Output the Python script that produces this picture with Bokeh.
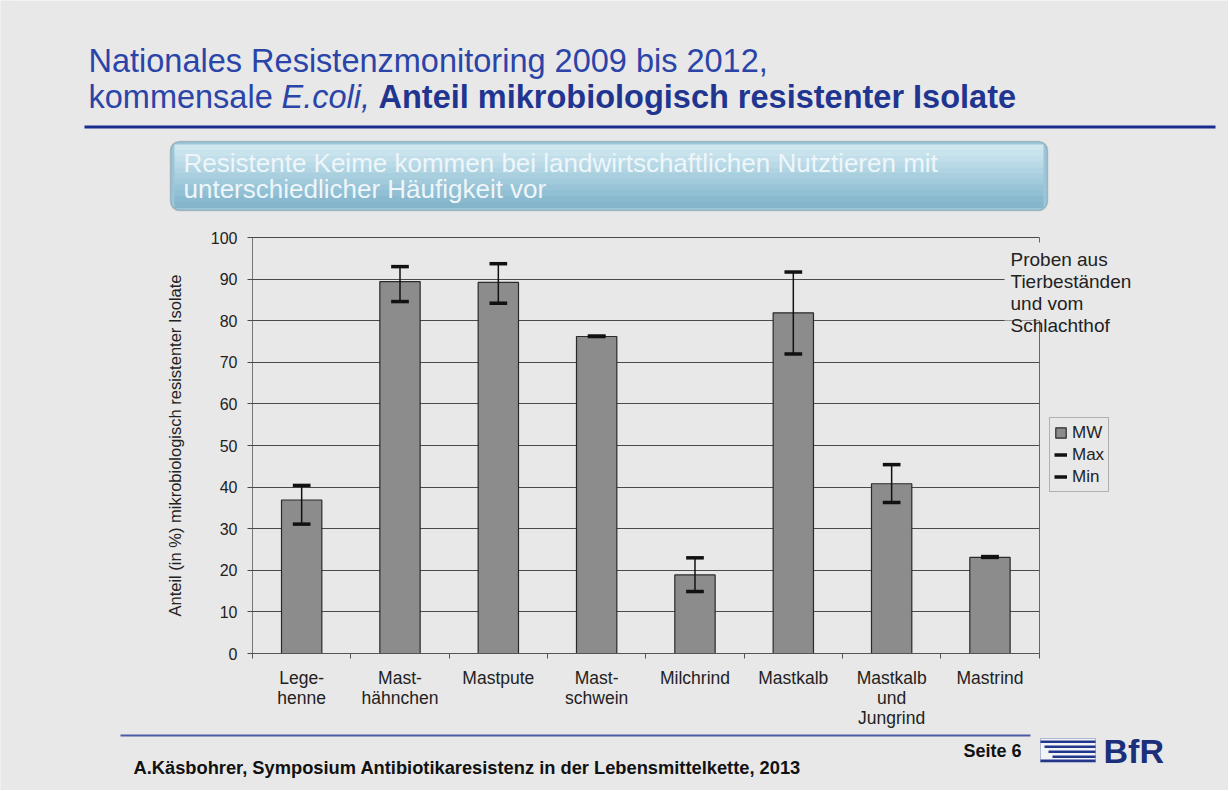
from bokeh.plotting import figure
from bokeh.models import (Range1d, FixedTicker, Label, BoxAnnotation, Legend, LegendItem, LinearAxis)
from bokeh.embed import file_html
from bokeh.resources import INLINE

# ---------------- data ----------------
categories = ["Lege-\nhenne", "Mast-\nhähnchen", "Mastpute", "Mast-\nschwein",
              "Milchrind", "Mastkalb", "Mastkalb\nund\nJungrind", "Mastrind"]
mw_values = [36.9, 89.4, 89.2, 76.2, 18.9, 81.9, 40.8, 23.1]
max_values = [40.4, 93.0, 93.7, 76.3, 23.0, 91.7, 45.4, 23.3]
min_values = [31.1, 84.6, 84.2, 76.2, 14.9, 72.0, 36.3, 23.1]
y_ticks = [0, 10, 20, 30, 40, 50, 60, 70, 80, 90, 100]

FONT = "Liberation Sans"
BG = "#e8e8e8"
W, H = 1228, 790

# plot-area geometry on the slide (pixels)
PA_LEFT, PA_TOP, PA_BOTTOM = 252, 237, 653
PX_PER_CAT = 98.33
PX_PER_UNIT = (PA_BOTTOM - PA_TOP) / 100.0

n = len(categories)
centers = [i + 0.5 for i in range(n)]
bounds = [float(i) for i in range(n + 1)]

x_range = Range1d(-PA_LEFT / PX_PER_CAT, (W - PA_LEFT) / PX_PER_CAT)
y_range = Range1d(-(H - PA_BOTTOM) / PX_PER_UNIT, 100 + PA_TOP / PX_PER_UNIT)

p = figure(width=W, height=H, x_range=x_range, y_range=y_range,
           output_backend="svg", toolbar_location=None,
           x_axis_location=None, y_axis_location=None, min_border=0)
p.min_border_left = p.min_border_right = p.min_border_top = p.min_border_bottom = 0
for g in p.grid:
    g.visible = False
p.background_fill_color = BG
p.border_fill_color = BG
p.outline_line_color = None

# y axis; its inward ticks span the plot area and serve as the horizontal grid lines
yaxis = LinearAxis(fixed_location=0, bounds=(0, 100), ticker=FixedTicker(ticks=y_ticks), level="underlay")
yaxis.axis_line_color = "#777777"
yaxis.major_tick_line_color = "#4a4a4a"
yaxis.major_tick_out = 5
yaxis.major_tick_in = int(round(n * PX_PER_CAT))
yaxis.minor_tick_line_color = None
yaxis.major_label_standoff = 10
yaxis.major_label_text_font = FONT
yaxis.major_label_text_font_size = "16px"
yaxis.major_label_text_color = "#222222"
yaxis.axis_label = "Anteil (in %) mikrobiologisch resistenter Isolate"
yaxis.axis_label_text_font = FONT
yaxis.axis_label_text_font_size = "16.5px"
yaxis.axis_label_text_font_style = "normal"
yaxis.axis_label_text_color = "#222222"
yaxis.axis_label_standoff = 24
p.add_layout(yaxis, "left")

# right border of the plot area
raxis = LinearAxis(fixed_location=n, bounds=(0, 100), ticker=FixedTicker(ticks=[]), level="underlay")
raxis.axis_line_color = "#666666"
raxis.major_tick_line_color = None
raxis.minor_tick_line_color = None
raxis.major_label_text_color = None
p.add_layout(raxis, "right")

# bars and min/max markers
bars = p.vbar(x=centers, top=mw_values, width=0.41, bottom=0,
              fill_color="#8c8c8c", line_color="#2a2a2a", line_width=1.2)
p.segment(x0=centers, x1=centers, y0=min_values, y1=max_values, line_color="#111111", line_width=1.5)
cap = 0.09
cmax = p.segment(x0=[c - cap for c in centers], x1=[c + cap for c in centers], y0=max_values, y1=max_values,
                 line_color="#111111", line_width=3.5)
cmin = p.segment(x0=[c - cap for c in centers], x1=[c + cap for c in centers], y0=min_values, y1=min_values,
                 line_color="#111111", line_width=3.5)

# x axis (labels at category centres, ticks at category boundaries)
xaxis = LinearAxis(fixed_location=0, bounds=(0, n), ticker=FixedTicker(ticks=centers, minor_ticks=bounds))
xaxis.major_label_overrides = {c: t for c, t in zip(centers, categories)}
xaxis.major_tick_line_color = None
xaxis.major_tick_out = 0
xaxis.major_tick_in = 0
xaxis.minor_tick_line_color = "#555555"
xaxis.minor_tick_out = 5
xaxis.minor_tick_in = 0
xaxis.axis_line_color = "#555555"
xaxis.major_label_standoff = 9
xaxis.major_label_text_font = FONT
xaxis.major_label_text_font_size = "17.5px"
xaxis.major_label_text_line_height = 1.0
xaxis.major_label_text_color = "#222222"
p.add_layout(xaxis, "below")


def lab(x, y, text, size, color, style="normal", baseline="middle", **kw):
    p.add_layout(Label(x=x, y=y, x_units="canvas", y_units="canvas", text=text,
                       text_baseline=baseline, text_font=FONT, text_font_size=size,
                       text_font_style=style, text_color=color, **kw))


def box(l, r, t, b, **kw):
    p.add_layout(BoxAnnotation(left=l, right=r, top=t, bottom=b, left_units="canvas", right_units="canvas",
                               top_units="canvas", bottom_units="canvas", fill_alpha=1, **kw))


# clean strip at the far left edge of the slide
box(0, 8, 0, H, fill_color=BG, line_color=None)

# note beside the chart
lab(1004, 242, "Proben aus\nTierbeständen\nund vom", "19px", "#222222", baseline="top",
    background_fill_color=BG, padding=6, text_line_height=1.07)
lab(1010, 314, "Schlachthof", "19px", "#222222", baseline="top")

# legend
legend = Legend(items=[LegendItem(label="MW", renderers=[bars]),
                       LegendItem(label="Max", renderers=[cmax]),
                       LegendItem(label="Min", renderers=[cmin])],
                location=(1049, H - 492))
legend.label_text_font = FONT
legend.label_text_font_size = "17px"
legend.label_text_color = "#222222"
legend.glyph_width = 13
legend.glyph_height = 13
legend.label_height = 21
legend.label_standoff = 5
legend.padding = 4
legend.spacing = 1
legend.margin = 0
legend.border_line_color = "#777777"
legend.background_fill_color = BG
legend.background_fill_alpha = 1
p.add_layout(legend, "center")

# ---------------- slide title ----------------
TITLE_BLUE = "#2a44a8"
TITLE_DARK = "#1f3590"
lab(88, 60, "Nationales Resistenzmonitoring 2009 bis 2012,", "32.5px", TITLE_BLUE)
lab(88, 96, "kommensale", "32.5px", TITLE_BLUE)
lab(281, 96, "E.coli,", "32.5px", TITLE_BLUE, style="italic")
lab(378, 96, "Anteil mikrobiologisch resistenter Isolate", "32.5px", TITLE_DARK, style="bold")
box(84, 1215, 125, 128, fill_color="#1a2c8f", line_color=None)

# header box with a vertical gradient
box(170, 1047, 141, 210, border_radius=9, fill_color="#9cc6d8", line_color="#4a6a7c", line_width=1.5)
band_cols = ["#d0e7f0", "#c9e3ed", "#c1deea", "#b9d9e6", "#b1d4e3", "#a9cfdf",
             "#a1cadb", "#99c4d7", "#91bfd3", "#8abacf", "#84b5cb"]
t0, b0 = 144, 207
bh = (b0 - t0) / len(band_cols)
for i, col in enumerate(band_cols):
    box(174, 1043, t0 + i * bh, t0 + (i + 1) * bh + 0.5, fill_color=col, line_color=None)
lab(183, 162, "Resistente Keime kommen bei landwirtschaftlichen Nutztieren mit", "26px", "#eef6fa")
lab(183, 188, "unterschiedlicher Häufigkeit vor", "26px", "#eef6fa")

# ---------------- footer ----------------
box(120, 1030, 734, 736, fill_color="#4b5aa5", line_color=None)
lab(133, 767, "A.Käsbohrer, Symposium Antibiotikaresistenz in der Lebensmittelkette, 2013",
    "18.3px", "#111111", style="bold")
lab(963, 750, "Seite 6", "18px", "#111111", style="bold")
lab(1103, 750, "BfR", "34px", "#1b2f7a", style="bold")
box(1040, 1095, 738, 762, fill_color="#f2f4f8", line_color="#23378a", line_width=1)
for l, t in [(1040, 740), (1044, 745), (1048, 750), (1052, 755), (1040, 759)]:
    box(l, 1095, t, t + 2.5, fill_color="#23378a", line_color=None)

open("out.html", "w").write(file_html(p, INLINE))
